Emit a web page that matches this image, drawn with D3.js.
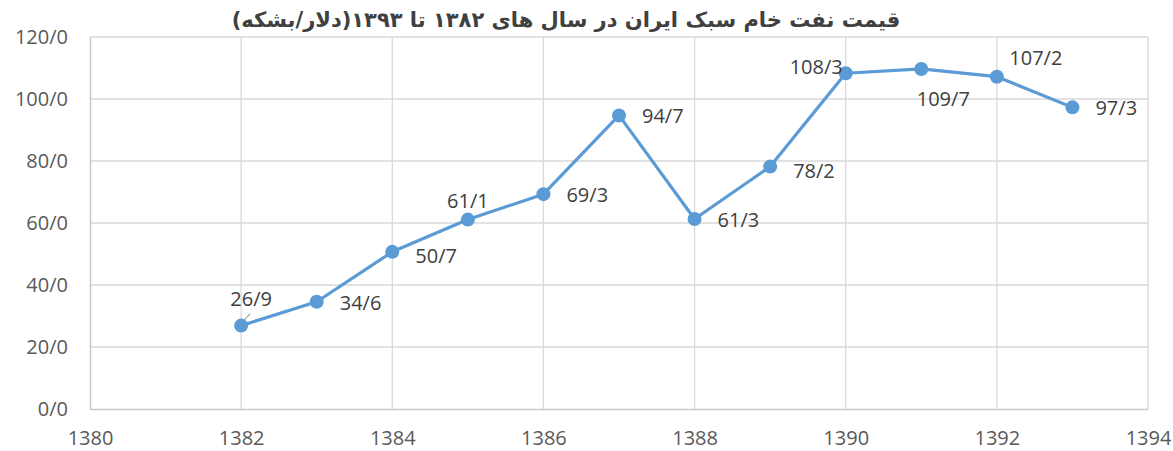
<!DOCTYPE html>
<html>
<head>
<meta charset="utf-8">
<script src="https://cdn.jsdelivr.net/npm/d3@7"></script>
<style>
  body { margin: 0; background: #fff; }
  text { font-family: "Open Sans", "Liberation Sans", sans-serif; }
</style>
</head>
<body>
<main></main>
<script>
const years = [1382, 1383, 1384, 1385, 1386, 1387, 1388, 1389, 1390, 1391, 1392, 1393];
const prices = [26.9, 34.6, 50.7, 61.1, 69.3, 94.7, 61.3, 78.2, 108.3, 109.7, 107.2, 97.3];
const labels = ["26/9", "34/6", "50/7", "61/1", "69/3", "94/7", "61/3", "78/2", "108/3", "109/7", "107/2", "97/3"];
// where each label sits relative to its point
const labelPos = ["aboveLead", "right", "rightLow", "above", "right", "right", "right", "rightLow", "aboveLeft", "below", "aboveRight", "right"];
const xTicks = [1380, 1382, 1384, 1386, 1388, 1390, 1392, 1394];
const yTicks = [0, 20, 40, 60, 80, 100, 120];
const title = "قیمت نفت خام سبک ایران در سال های ۱۳۸۲ تا ۱۳۹۳(دلار/بشکه)";

const width = 1173;
const height = 451;
const margin = {top: 37, right: 25, bottom: 42, left: 90};

const svg = d3.select('main').append('svg')
  .attr('width', width)
  .attr('height', height);

const x = d3.scaleLinear().domain([1380, 1394]).range([margin.left, width - margin.right]);
const y = d3.scaleLinear().domain([0, 120]).range([height - margin.bottom, margin.top]);

// gridlines
svg.append("g").selectAll("line")
  .data(yTicks.slice(1))
  .enter().append("line")
  .attr("x1", x(1380)).attr("x2", x(1394))
  .attr("y1", d => y(d)).attr("y2", d => y(d))
  .style("stroke", "#d9d9d9").style("stroke-width", "1.3px");

svg.append("g").selectAll("line")
  .data(xTicks.slice(1))
  .enter().append("line")
  .attr("x1", d => x(d)).attr("x2", d => x(d))
  .attr("y1", y(0)).attr("y2", y(120))
  .style("stroke", "#d9d9d9").style("stroke-width", "1.3px");

// axes
const xAxis = svg.append("g")
  .attr("transform", `translate(0,${y(0)})`)
  .call(d3.axisBottom(x).tickValues(xTicks).tickSize(0).tickPadding(22).tickFormat(d3.format("d")));
xAxis.select(".domain").style("stroke", "#c8c8c8").style("stroke-width", "1.5px");
xAxis.selectAll("text").style("font-size", "20px").style("fill", "#595959");

const yAxis = svg.append("g")
  .attr("transform", `translate(${x(1380)},0)`)
  .call(d3.axisLeft(y).tickValues(yTicks).tickSize(0).tickPadding(22).tickFormat(d => d + "/0"));
yAxis.select(".domain").style("stroke", "#c8c8c8").style("stroke-width", "1.5px");
yAxis.selectAll("text").style("font-size", "20px").style("fill", "#595959");

// title
svg.append("text")
  .attr("x", 566).attr("y", 27)
  .attr("text-anchor", "middle")
  .attr("direction", "rtl")
  .style("font-family", "'DejaVu Sans', sans-serif")
  .style("font-weight", "bold")
  .style("font-size", "21px")
  .style("fill", "#404040")
  .text(title);

const data = years.map((d, i) => ({year: d, price: prices[i], label: labels[i], pos: labelPos[i]}));

// line
const line = d3.line().x(d => x(d.year)).y(d => y(d.price));
svg.append("path")
  .datum(data)
  .attr("d", line)
  .style("fill", "none")
  .style("stroke", "#5b9bd5")
  .style("stroke-width", "3.2px")
  .style("stroke-linejoin", "round");

// leader line for first label
svg.append("line")
  .attr("x1", x(1382) + 1).attr("y1", y(26.9) - 3)
  .attr("x2", x(1382) + 9).attr("y2", y(26.9) - 12)
  .style("stroke", "#a6a6a6").style("stroke-width", "1.2px");

svg.append("g").selectAll("circle")
  .data(data)
  .enter().append("circle")
  .attr("cx", d => x(d.year))
  .attr("cy", d => y(d.price))
  .attr("r", 7)
  .style("fill", "#5b9bd5");

const offsets = {
  right: {dx: 23, dy: 8, anchor: "start"},
  rightLow: {dx: 23, dy: 11, anchor: "start"},
  above: {dx: 0, dy: -12, anchor: "middle"},
  aboveLead: {dx: 10, dy: -20, anchor: "middle"},
  aboveLeft: {dx: -3, dy: 1, anchor: "end"},
  below: {dx: 22, dy: 37, anchor: "middle"},
  aboveRight: {dx: 39, dy: -12, anchor: "middle"}
};

svg.append("g").selectAll("text")
  .data(data)
  .enter().append("text")
  .attr("x", d => x(d.year) + offsets[d.pos].dx)
  .attr("y", d => y(d.price) + offsets[d.pos].dy)
  .attr("text-anchor", d => offsets[d.pos].anchor)
  .style("font-size", "20px")
  .style("fill", "#404040")
  .text(d => d.label);
</script>
</body>
</html>
